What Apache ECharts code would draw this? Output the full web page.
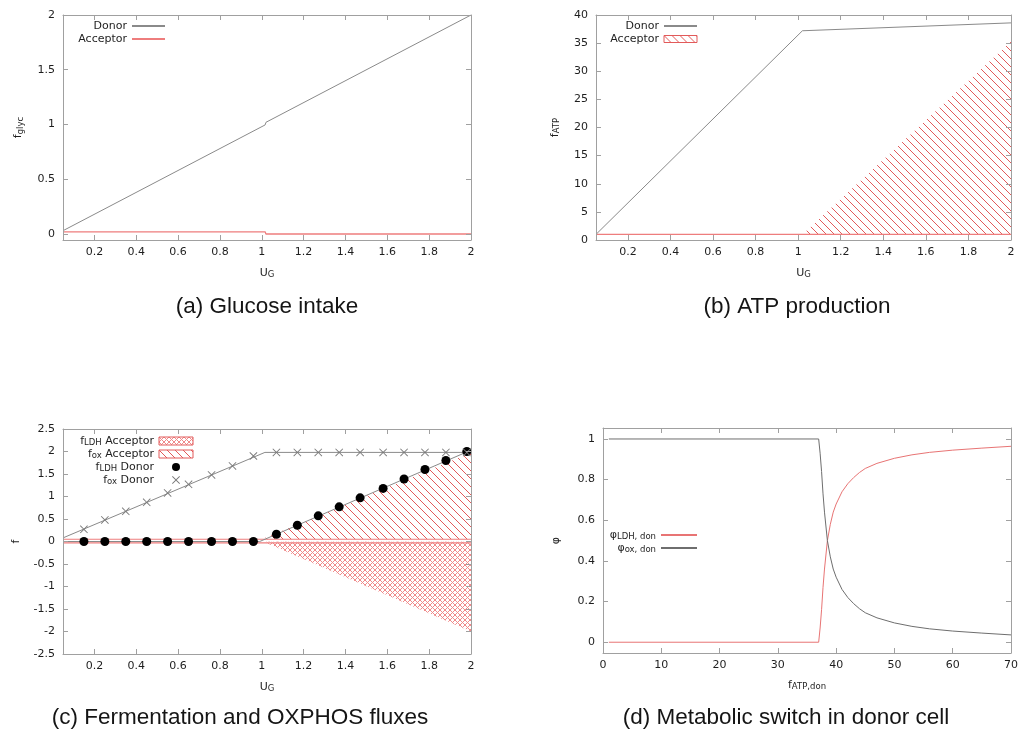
<!DOCTYPE html>
<html><head><meta charset="utf-8">
<script src="https://cdn.jsdelivr.net/npm/echarts@6/dist/echarts.min.js"></script>
<style>html,body{margin:0;padding:0;background:#fff}#c{width:1019px;height:734px}</style>
</head><body><div id="c"></div>
<script>
// ---------------- data ----------------
const uTicks = [0.2, 0.4, 0.6, 0.8, 1, 1.2, 1.4, 1.6, 1.8, 2];
const glycTicks = [0, 0.5, 1, 1.5, 2];
const phiTicks = [0, 0.2, 0.4, 0.6, 0.8, 1];

// (a) glucose intake
const glycDonor = [[0.05, 0.03], [1.016, 0.996], [1.02, 1.02], [2, 2]];
const glycAcceptor = [[0.05, 0.02], [1.016, 0.02], [1.02, 0], [2, 0]];

// (b) ATP production
const atpDonor = [[0.05, 1], [1.02, 37.2], [2, 38.6]];
const atpAcceptor = [[0.05, 1], [2, 1]];
const atpAcceptorTop = [[1.02, 1], [2, 35.3]];

// (c) fermentation and OXPHOS fluxes
const markerU = [0.15, 0.25, 0.35, 0.45, 0.55, 0.65, 0.76, 0.86, 0.96, 1.07, 1.17, 1.27, 1.37, 1.47, 1.58, 1.68, 1.78, 1.88, 1.98];
const oxDonorPts = [0.27, 0.48, 0.67, 0.87, 1.08, 1.27, 1.48, 1.68, 1.90, 1.98, 1.98, 1.98, 1.98, 1.98, 1.98, 1.98, 1.98, 1.98, 1.98];
const ldhDonorPts = [0, 0, 0, 0, 0, 0, 0, 0, 0, 0.16, 0.36, 0.57, 0.77, 0.97, 1.18, 1.39, 1.60, 1.80, 2.00];
const oxDonorLine = [[0.05, 0.08], [1.015, 1.98], [2, 1.98]];
const ldhDonorLine = [[0.05, 0], [0.99, 0], [2, 2.03]];
const oxAccTop = [[1.0, 0.05], [2, 1.97]];
const oxAccBase = [[0.05, 0.05], [2, 0.05]];
const ldhAccBase = [[0.05, -0.03], [2, -0.03]];
const ldhAccBottom = [[1.02, -0.03], [2, -2.0]];

// (d) metabolic switch
const fAtp   = [1, 37, 37.25, 37.5, 37.75, 38, 38.5, 39, 39.5, 40, 41, 42, 43, 44, 45, 47, 50, 53, 56, 60, 65, 70];
const phiOx  = [1, 1, 0.93, 0.84, 0.73, 0.64, 0.5, 0.42, 0.36, 0.32, 0.26, 0.22, 0.19, 0.165, 0.145, 0.12, 0.095, 0.078, 0.066, 0.055, 0.045, 0.036];
const phiLdh = [0, 0, 0.07, 0.16, 0.27, 0.36, 0.5, 0.58, 0.64, 0.68, 0.74, 0.78, 0.81, 0.835, 0.855, 0.88, 0.905, 0.922, 0.934, 0.945, 0.955, 0.964];

const legendLabels = {
  glycDonor: 'Donor', glycAcc: 'Acceptor',
  atpDonor: 'Donor', atpAcc: 'Acceptor',
  ldhAcc: '{n|f}{s|LDH}{n| Acceptor}', oxAcc: '{n|f}{s|ox}{n| Acceptor}',
  ldhDon: '{n|f}{s|LDH}{n| Donor}', oxDon: '{n|f}{s|ox}{n| Donor}',
  phiLdh: '{n|φ}{s|LDH, don}', phiOx: '{n|φ}{s|ox, don}'
};
const captions = ['(a) Glucose intake', '(b) ATP production', '(c) Fermentation and OXPHOS fluxes', '(d) Metabolic switch in donor cell'];

// ---------------- styling ----------------
const FRAME = '#a0a0a0';
const TXT = '#1e1e1e';
const RED = '#ee7d7d';
const HATCH = '#e25a5a';
const CROSS = '#f08a8a';
const GRAY = '#8a8a8a';
const FONT = 'DejaVu Sans';

function pattern(size, color, both) {
  const c = document.createElement('canvas');
  c.width = size; c.height = size;
  const g = c.getContext('2d');
  g.strokeStyle = color; g.lineWidth = 1;
  g.beginPath();
  g.moveTo(-1, -1); g.lineTo(size + 1, size + 1);
  g.moveTo(size - 1, -1); g.lineTo(size + 1, 1);
  g.moveTo(-1, size - 1); g.lineTo(1, size + 1);
  if (both) {
    g.moveTo(-1, size + 1); g.lineTo(size + 1, -1);
    g.moveTo(-1, 1); g.lineTo(1, -1);
    g.moveTo(size - 1, size + 1); g.lineTo(size + 1, size - 1);
  }
  g.stroke();
  return { image: c, repeat: 'repeat' };
}
const hatchP = pattern(8, HATCH, false);
const crossP = pattern(5, CROSS, true);

const rich = {
  n: { fontFamily: FONT, fontSize: 11, lineHeight: 13, color: TXT },
  s: { fontFamily: FONT, fontSize: 8.5, lineHeight: 8, verticalAlign: 'bottom', color: TXT }
};

function axisPair(dim, gi, cfg) {
  const main = {
    type: 'value', gridIndex: gi, min: cfg.min, max: cfg.max,
    position: dim === 'x' ? 'bottom' : 'left',
    axisLine: { show: true, onZero: false, lineStyle: { color: FRAME, width: 1 } },
    axisTick: { show: true, inside: true, length: 5, lineStyle: { color: FRAME } },
    axisLabel: { show: true, fontFamily: FONT, fontSize: 11, color: TXT, margin: dim === 'x' ? 7 : 8 },
    splitLine: { show: false },
    z: 10
  };
  if (cfg.ticks) {
    main.axisTick.customValues = cfg.ticks;
    main.axisLabel.customValues = cfg.ticks;
  } else {
    main.interval = cfg.interval;
  }
  const mirror = JSON.parse(JSON.stringify(main));
  mirror.position = dim === 'x' ? 'top' : 'right';
  mirror.axisLabel = { show: false };
  if (cfg.name) {
    main.name = cfg.name;
    main.nameLocation = 'middle';
    main.nameGap = cfg.nameGap;
    main.nameRotate = dim === 'y' ? 90 : 0;
    main.nameTextStyle = { fontFamily: FONT, fontSize: 11, color: TXT, rich: rich };
  }
  return [main, mirror];
}

const xAxes = [].concat(
  axisPair('x', 0, { min: 0.05, max: 2, ticks: uTicks, name: '{n|U}{s|G}', nameGap: 26.5 }),
  axisPair('x', 1, { min: 0.05, max: 2, ticks: uTicks, name: '{n|U}{s|G}', nameGap: 26.5 }),
  axisPair('x', 2, { min: 0.05, max: 2, ticks: uTicks, name: '{n|U}{s|G}', nameGap: 26.5 }),
  axisPair('x', 3, { min: 0, max: 70, interval: 10, name: '{n|f}{s|ATP,don}', nameGap: 25.5 })
);
const yAxes = [].concat(
  axisPair('y', 0, { min: -0.055, max: 2, ticks: glycTicks, name: '{n|f}{s|glyc}', nameGap: 38 }),
  axisPair('y', 1, { min: 0, max: 40, interval: 5, name: '{n|f}{s|ATP}', nameGap: 34.5 }),
  axisPair('y', 2, { min: -2.5, max: 2.5, interval: 0.5, name: '{n|f}', nameGap: 40.5 }),
  axisPair('y', 3, { min: -0.053, max: 1.054, ticks: phiTicks, name: '{n|φ}', nameGap: 40.5 })
);

function zip(xs, ys) { return xs.map((x, i) => [x, ys[i]]); }

function line(name, ax, data, color, width, z, extra) {
  return Object.assign({
    type: 'line', name: name, xAxisIndex: ax, yAxisIndex: ax, data: data,
    symbol: 'none', showSymbol: false, silent: true, animation: false,
    lineStyle: { color: color, width: width }, itemStyle: { color: color }, z: z
  }, extra || {});
}

const xCross = 'path://M0,0.8L0.8,0L5,4.2L9.2,0L10,0.8L5.8,5L10,9.2L9.2,10L5,5.8L0.8,10L0,9.2L4.2,5Z';

const series = [
  // (a)
  line('glycDonor', 0, glycDonor, GRAY, 1, 4),
  line('glycAcc', 0, glycAcceptor, RED, 1.3, 3),
  // (b)
  line('atpAcc', 2, atpAcceptorTop, HATCH, 0, 2, { lineStyle: { width: 0, opacity: 0 }, itemStyle: { color: HATCH }, areaStyle: { color: hatchP, opacity: 1 } }),
  line('atpAccLine', 2, atpAcceptor, RED, 1.2, 3, { areaStyle: { color: '#ffffff', opacity: 1 } }),
  line('atpDonor', 2, atpDonor, GRAY, 1, 4),
  // (c)
  line('oxAcc', 4, oxAccTop, HATCH, 0, 2, { lineStyle: { width: 0, opacity: 0 }, itemStyle: { color: HATCH }, areaStyle: { color: hatchP, opacity: 1 } }),
  line('ldhAcc', 4, ldhAccBottom, CROSS, 0, 2, { lineStyle: { width: 0, opacity: 0 }, itemStyle: { color: CROSS }, areaStyle: { color: crossP, opacity: 1 } }),
  line('oxAccBase', 4, oxAccBase, RED, 1.1, 3, { areaStyle: { color: '#ffffff', opacity: 1 } }),
  line('ldhAccBase', 4, ldhAccBase, RED, 1.1, 3, { areaStyle: { color: '#ffffff', opacity: 1 } }),
  line('oxDonLine', 4, oxDonorLine, GRAY, 1, 4),
  line('ldhDonLine', 4, ldhDonorLine, GRAY, 1, 4),
  { type: 'scatter', name: 'ldhDon', xAxisIndex: 4, yAxisIndex: 4, data: zip(markerU, ldhDonorPts),
    symbol: 'circle', symbolSize: 9, itemStyle: { color: '#000', opacity: 1 }, z: 6, silent: true, animation: false },
  { type: 'scatter', name: 'oxDon', xAxisIndex: 4, yAxisIndex: 4, data: zip(markerU, oxDonorPts),
    symbol: xCross, symbolSize: 8, symbolKeepAspect: true, itemStyle: { color: '#7a7a7a', opacity: 1 }, z: 6, silent: true, animation: false },
  // (d)
  line('phiLdh', 6, zip(fAtp, phiLdh), '#e87474', 1, 4),
  line('phiOx', 6, zip(fAtp, phiOx), '#6e6e6e', 1, 4)
];

function lineItem(name) { return { name: name, itemStyle: { opacity: 0 } }; }

function legend(data, left, top, W, iw, ih) {
  return {
    data: data, left: left, top: top, orient: 'vertical', align: 'right', padding: 0,
    itemGap: 0, itemWidth: iw, itemHeight: ih, selectedMode: false,
    formatter: n => legendLabels[n],
    textStyle: { fontFamily: FONT, fontSize: 11, color: TXT, width: W, lineHeight: 13, rich: rich }
  };
}

const legends = [
  legend([lineItem('glycDonor'), lineItem('glycAcc')], 77, 19.5, 50, 33, 8),
  legend([lineItem('atpDonor'), { name: 'atpAcc', icon: 'rect', itemStyle: { color: hatchP, borderColor: HATCH, borderWidth: 1 } }], 609, 19.5, 50, 33, 7),
  legend([
    { name: 'ldhAcc', icon: 'rect', itemStyle: { color: crossP, borderColor: HATCH, borderWidth: 1 } },
    { name: 'oxAcc', icon: 'rect', itemStyle: { color: hatchP, borderColor: HATCH, borderWidth: 1 } },
    'ldhDon', 'oxDon'], 79, 434.5, 75, 34, 8),
  legend([lineItem('phiLdh'), lineItem('phiOx')], 606, 528.5, 50, 36, 8)
];

const capStyle = { fontFamily: 'Liberation Sans', fontSize: 22.5, fontWeight: 'normal', color: '#151515' };
const titles = [
  { text: captions[0], left: 267, top: 295.5 },
  { text: captions[1], left: 797, top: 295.5 },
  { text: captions[2], left: 240, top: 706.5 },
  { text: captions[3], left: 786, top: 706.5 }
].map(t => Object.assign(t, { textAlign: 'center', padding: 0, textStyle: capStyle }));

const chart = echarts.init(document.getElementById('c'), null, { renderer: 'canvas' });
chart.setOption({
  backgroundColor: '#ffffff',
  animation: false,
  title: titles,
  grid: [
    { left: 63, top: 15, width: 408, height: 225, outerBoundsMode: 'none' },
    { left: 596, top: 15, width: 415, height: 225, outerBoundsMode: 'none' },
    { left: 63, top: 429, width: 408, height: 225, outerBoundsMode: 'none' },
    { left: 603, top: 428, width: 408, height: 225, outerBoundsMode: 'none' }
  ],
  xAxis: xAxes,
  yAxis: yAxes,
  legend: legends,
  series: series
});
</script>
</body></html>
